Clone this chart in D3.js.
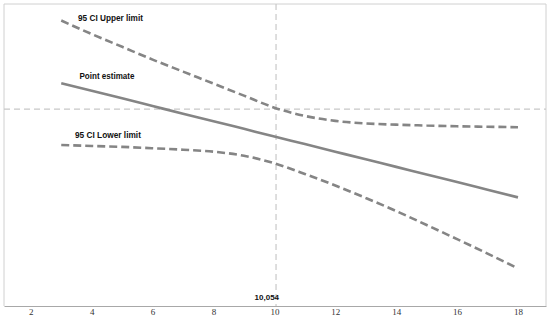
<!DOCTYPE html>
<html>
<head>
<meta charset="utf-8">
<script src="https://cdn.jsdelivr.net/npm/d3@7"></script>
<style>
  body { margin: 0; background: #fff; }
  .tick text { font-family: "Liberation Serif", serif; font-size: 9px; fill: #333; }
  .lbl { font-family: "Liberation Sans", Arial, sans-serif; font-weight: bold; font-size: 9.5px; fill: #111; }
</style>
</head>
<body>
<script>
// chart values
var xValues = [3, 4, 5, 6, 7, 8, 9, 10, 11, 12, 13, 14, 15, 16, 17, 18];
var upperLimit = [0.59, 0.50, 0.415, 0.33, 0.25, 0.17, 0.09, 0.01, -0.045, -0.078, -0.095, -0.103, -0.109, -0.114, -0.117, -0.12];
var pointEstimate = [0.173, 0.122, 0.072, 0.021, -0.03, -0.08, -0.131, -0.182, -0.232, -0.283, -0.334, -0.384, -0.435, -0.485, -0.536, -0.587];
var lowerLimit = [-0.238, -0.245, -0.251, -0.26, -0.27, -0.283, -0.31, -0.36, -0.431, -0.508, -0.591, -0.678, -0.771, -0.865, -0.961, -1.06];
var xTicks = [2, 4, 6, 8, 10, 12, 14, 16, 18];
var cutPoint = 10.054;
var cutLabel = "10,054";
var refY = 0;

var w = 550, h = 322;
var plotL = 4, plotR = 546, plotT = 4, plotB = 306;

var svg = d3.select("body").append("svg")
    .attr("width", w)
    .attr("height", h);

var x = d3.scaleLinear()
    .domain([1.12, 18.92])
    .range([plotL, plotR]);

var y = d3.scaleLinear()
    .domain([-1.31, 0.70])
    .range([plotB, plotT]);

// plot frame (top, left, right)
svg.append("path")
    .attr("d", "M" + plotL + "," + plotB + "V" + plotT + "H" + plotR + "V" + plotB)
    .attr("fill", "none")
    .attr("stroke", "#d0d0d0")
    .attr("stroke-width", 1);

// reference lines
svg.append("line")
    .attr("x1", plotL).attr("x2", plotR)
    .attr("y1", y(refY)).attr("y2", y(refY))
    .attr("stroke", "#c8c8c8")
    .attr("stroke-width", 1.2)
    .attr("stroke-dasharray", "6,4");

svg.append("line")
    .attr("x1", x(cutPoint)).attr("x2", x(cutPoint))
    .attr("y1", plotT).attr("y2", plotB)
    .attr("stroke", "#c8c8c8")
    .attr("stroke-width", 1.2)
    .attr("stroke-dasharray", "6,4");

// x axis
var axis = svg.append("g")
    .attr("transform", "translate(0," + plotB + ")")
    .call(d3.axisBottom(x).tickValues(xTicks).tickSize(0).tickSizeOuter(0).tickPadding(3));
axis.select(".domain").attr("stroke", "#a8a8a8").attr("stroke-width", 1.2);

var line = d3.line()
    .x(function (d, i) { return x(xValues[i]); })
    .y(function (d) { return y(d); })
    .curve(d3.curveMonotoneX);

var series = [
    { values: upperLimit, dash: "8,4" },
    { values: pointEstimate, dash: null },
    { values: lowerLimit, dash: "8,4" }
];

svg.selectAll(".series")
    .data(series)
    .enter()
    .append("path")
    .attr("class", "series")
    .attr("d", function (d) { return line(d.values); })
    .attr("fill", "none")
    .attr("stroke", "#858585")
    .attr("stroke-width", 2.6)
    .attr("stroke-dasharray", function (d) { return d.dash; });

// series labels (widths squeezed to match the condensed look)
var labels = [
    { text: "95 CI Upper limit", x: 3.55, y: 0.608, len: 65 },
    { text: "Point estimate", x: 3.6, y: 0.222, len: 55 },
    { text: "95 CI Lower limit", x: 3.45, y: -0.172, len: 66 }
];

svg.selectAll(".lbl")
    .data(labels)
    .enter()
    .append("text")
    .attr("class", "lbl")
    .attr("x", function (d) { return x(d.x); })
    .attr("y", function (d) { return y(d.y); })
    .attr("dy", "0.35em")
    .attr("textLength", function (d) { return d.len; })
    .attr("lengthAdjust", "spacingAndGlyphs")
    .text(function (d) { return d.text; });

svg.append("text")
    .attr("class", "lbl")
    .style("font-size", "8px")
    .attr("x", x(cutPoint) + 3)
    .attr("y", 297.5)
    .attr("dy", "0.35em")
    .attr("text-anchor", "end")
    .text(cutLabel);
</script>
</body>
</html>
